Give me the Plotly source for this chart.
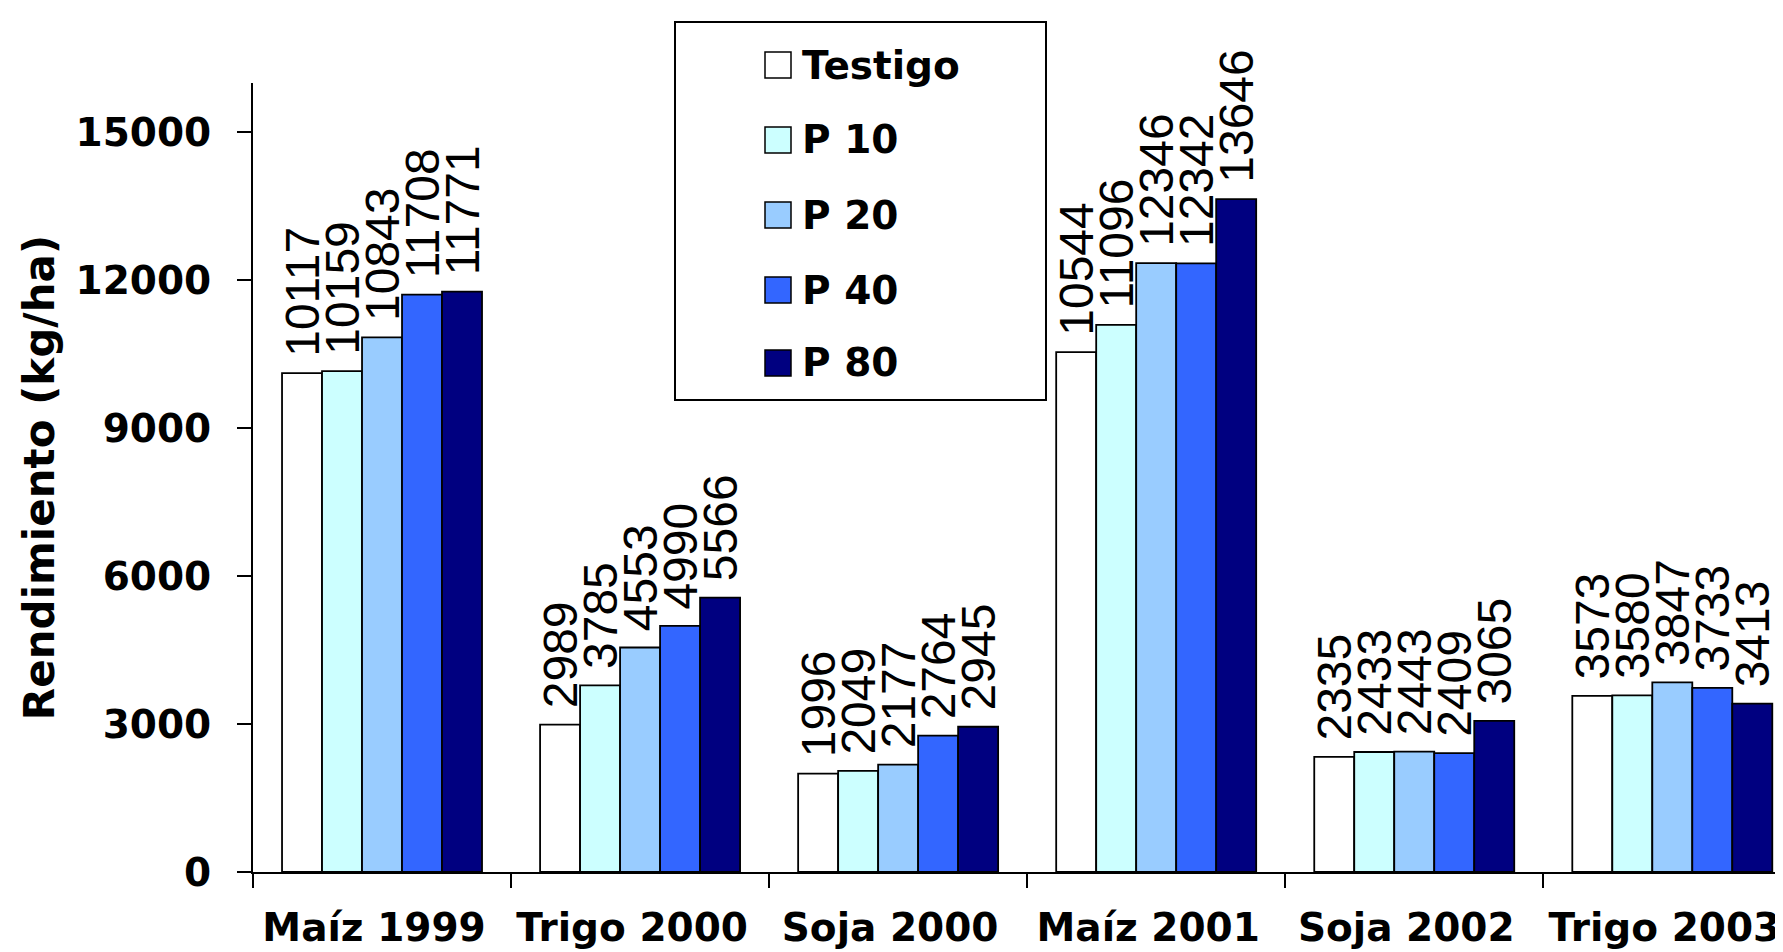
import plotly.graph_objects as go

categories = ["Maíz 1999", "Trigo 2000", "Soja 2000", "Maíz 2001", "Soja 2002", "Trigo 2003"]
series_names = ["Testigo", "P 10", "P 20", "P 40", "P 80"]
testigo = [10117, 2989, 1996, 10544, 2335, 3573]
p10 = [10159, 3785, 2049, 11096, 2433, 3580]
p20 = [10843, 4553, 2177, 12346, 2443, 3847]
p40 = [11708, 4990, 2764, 12342, 2409, 3733]
p80 = [11771, 5566, 2945, 13646, 3065, 3413]
series_values = [testigo, p10, p20, p40, p80]
colors = ["#FFFFFF", "#CCFFFF", "#99CCFF", "#3366FF", "#000080"]
y_ticks = [0, 3000, 6000, 9000, 12000, 15000]

W, H = 1783, 952
ML, MR, MT, MB = 245, 0, 75, 88
PW, PH = W - ML - MR, H - MT - MB

def px_x(x):
    return (x - ML) / PW

def px_y(y):
    return (H - MB - y) / PH

BOLD = dict(family="DejaVu Sans", size=39, color="black", weight="bold")

fig = go.Figure()
for name, vals, col in zip(series_names, series_values, colors):
    fig.add_trace(go.Bar(
        name=name, x=categories, y=vals,
        marker=dict(color=col, line=dict(color="black", width=1.8)),
        text=["\u00a0" + str(v) for v in vals],
        textposition="outside", textangle=-90, constraintext="none",
        cliponaxis=False,
        textfont=dict(family="Liberation Sans", size=48, color="black"),
        showlegend=False,
    ))

# manual legend box (large swatches like the original)
shapes = [dict(type="rect", xref="paper", yref="paper",
               x0=px_x(667), x1=px_x(1038), y0=px_y(392), y1=px_y(14),
               line=dict(color="black", width=2), fillcolor="white", layer="above")]
annotations = []
row_y = [57, 132, 207, 282, 355]
for name, col, yc in zip(series_names, colors, row_y):
    shapes.append(dict(type="rect", xref="paper", yref="paper",
                       x0=px_x(757), x1=px_x(783), y0=px_y(yc + 13), y1=px_y(yc - 13),
                       line=dict(color="black", width=1.5), fillcolor=col, layer="above"))
    annotations.append(dict(xref="paper", yref="paper", x=px_x(792), y=px_y(yc),
                            text=name, showarrow=False, xanchor="left", yanchor="middle",
                            font=BOLD))

fig.update_layout(
    width=W, height=H,
    margin=dict(l=ML, r=MR, t=MT, b=MB, autoexpand=False),
    paper_bgcolor="white", plot_bgcolor="white",
    barmode="group", bargap=0.225, bargroupgap=0,
    shapes=shapes, annotations=annotations,
    showlegend=False,
    xaxis=dict(
        range=[-0.5, 5.46], showline=True, linecolor="black", linewidth=2,
        tickangle=0, ticklabelshift=-8,
        ticks="outside", tickson="boundaries", ticklen=14, tickwidth=2, tickcolor="black",
        tickfont=BOLD, showgrid=False, zeroline=False, automargin=False,
        ticklabelstandoff=20,
    ),
    yaxis=dict(
        range=[0, 16000], tickvals=y_ticks, tickformat="d",
        showline=True, linecolor="black", linewidth=2,
        ticks="outside", ticklen=14, tickwidth=2, tickcolor="black",
        tickfont=BOLD, showgrid=False, zeroline=False, automargin=False,
        ticklabelstandoff=18,
        title=dict(text="Rendimiento (kg/ha)", font=dict(family="DejaVu Sans", size=42, color="black", weight="bold"), standoff=8),
    ),
)

fig.write_html("out.html")
